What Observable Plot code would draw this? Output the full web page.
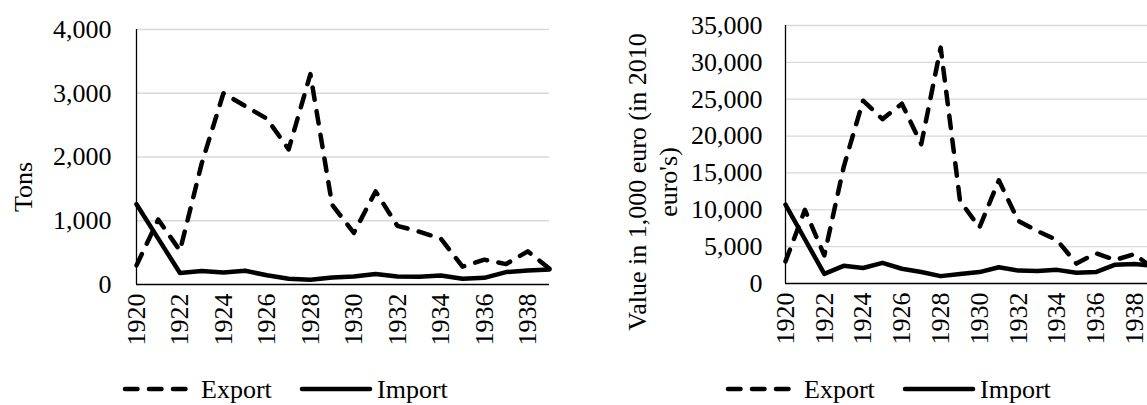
<!DOCTYPE html>
<html>
<head>
<meta charset="utf-8">
<script src="https://cdn.jsdelivr.net/npm/d3@7"></script>
<script src="https://cdn.jsdelivr.net/npm/@observablehq/plot@0.6"></script>
<style>
  html, body { margin: 0; padding: 0; background: #fff; overflow: hidden; width: 1147px; height: 405px; }
  #wrap { position: relative; width: 1147px; height: 405px; overflow: hidden; }
  #left, #right { position: absolute; top: 0; }
  #left { left: 0; width: 560px; }
  #right { left: 575px; width: 600px; }
  #wrap svg { max-width: none !important; }
  #wrap svg, #wrap svg text { font-family: "Liberation Serif", "Times New Roman", Times, "DejaVu Serif", serif !important; fill: #000; }
</style>
</head>
<body>
<div id="wrap"><div id="left"></div><div id="right"></div></div>
<script>
const years = [1920,1921,1922,1923,1924,1925,1926,1927,1928,1929,1930,1931,1932,1933,1934,1935,1936,1937,1938,1939];
const xTicks = [1920,1922,1924,1926,1928,1930,1932,1934,1936,1938];
const seriesNames = ["Export", "Import"];

const exportTons = [300,1020,530,1900,3000,2800,2600,2120,3300,1250,810,1460,920,830,720,280,390,320,520,250];
const importTons = [1260,720,180,210,190,215,145,90,75,110,125,165,125,120,140,90,105,195,220,235];
const tonsTicks = [0,1000,2000,3000,4000];

const exportValue = [3000,10000,3800,15800,24800,22300,24400,18900,32000,11200,7600,14000,8500,7100,5900,2700,4100,3200,4000,1900];
const importValue = [10700,6000,1300,2400,2100,2800,2000,1550,1000,1300,1550,2200,1750,1700,1850,1450,1550,2550,2650,2400];
const valueTicks = [0,5000,10000,15000,20000,25000,30000,35000];

const leftTitle = ["Tons"];
const rightTitle = ["Value in 1,000 euro (in 2010", "euro's)"];

const FONT = "26px";
const FAMILY = '"Liberation Serif", "Times New Roman", Times, "DejaVu Serif", serif';
const dash = "12.5,11.5";

function rows(vals, name) { return years.map((yr, i) => ({year: yr, value: vals[i], series: name})); }

function chart(o) {
  const svg = Plot.plot({
    width: o.width, height: 405,
    marginLeft: o.ml, marginRight: o.mr, marginTop: o.mt, marginBottom: 405 - o.base,
    style: {fontFamily: FAMILY, fontSize: FONT, background: "transparent", color: "#000", overflow: "visible", maxWidth: "none"},
    x: {domain: [1920, 1939], ticks: xTicks, tickFormat: d => `${d}`, tickRotate: -90, tickSize: 0, tickPadding: 9, label: null},
    y: {domain: [0, o.ticks[o.ticks.length - 1]], ticks: o.ticks, tickFormat: d3.format(","), tickSize: 0, tickPadding: o.tp, label: null},
    marks: [
      Plot.ruleY(o.ticks.filter(t => t > 0), {stroke: "#d9d9d9", strokeWidth: 1.3}),
      Plot.ruleY([0], {stroke: "#000", strokeWidth: 1.3}),
      Plot.ruleX([1920], {stroke: "#000", strokeWidth: 1.3}),
      Plot.line(rows(o.imp, seriesNames[1]), {x: "year", y: "value", stroke: "#000", strokeWidth: 4.5, strokeLinecap: "round", strokeLinejoin: "round"}),
      Plot.line(rows(o.exp, seriesNames[0]), {x: "year", y: "value", stroke: "#000", strokeWidth: 4.5, strokeDasharray: dash, strokeLinecap: "round", strokeLinejoin: "round"})
    ]
  });
  svg.setAttribute("width", o.width);
  svg.style.width = o.width + "px";
  svg.style.height = "405px";
  const s = d3.select(svg);
  o.titles.forEach((t, i) => {
    s.append("text").attr("transform", `translate(${o.titleX[i]},${o.titleY}) rotate(-90)`)
      .attr("text-anchor", "middle").attr("dy", "0.35em")
      .style("font-size", FONT).style("font-family", FAMILY).text(t);
  });
  const L = o.leg, LY = 389;
  s.append("line").attr("x1", L + 2).attr("x2", L + 63).attr("y1", LY).attr("y2", LY)
    .attr("stroke", "#000").attr("stroke-width", 4.5).attr("stroke-linecap", "round").attr("stroke-dasharray", dash);
  s.append("text").attr("x", L + 78).attr("y", LY).attr("dy", "0.33em").attr("text-anchor", "start")
    .style("font-size", FONT).style("font-family", FAMILY).text(seriesNames[0]);
  s.append("line").attr("x1", L + 179).attr("x2", L + 247).attr("y1", LY).attr("y2", LY)
    .attr("stroke", "#000").attr("stroke-width", 4.5).attr("stroke-linecap", "round");
  s.append("text").attr("x", L + 254).attr("y", LY).attr("dy", "0.33em").attr("text-anchor", "start")
    .style("font-size", FONT).style("font-family", FAMILY).text(seriesNames[1]);
  return svg;
}

document.getElementById("left").append(chart({
  width: 560, ml: 136, mr: 11, mt: 29, base: 284, ticks: tonsTicks, tp: 25,
  exp: exportTons, imp: importTons, titles: leftTitle, titleX: [23], titleY: 187, leg: 123
}));
document.getElementById("right").append(chart({
  width: 600, ml: 210, mr: 21.5, mt: 25, base: 283, ticks: valueTicks, tp: 23,
  exp: exportValue, imp: importValue, titles: rightTitle, titleX: [62, 93], titleY: 182, leg: 726 - 575
}));
</script>
</body>
</html>
